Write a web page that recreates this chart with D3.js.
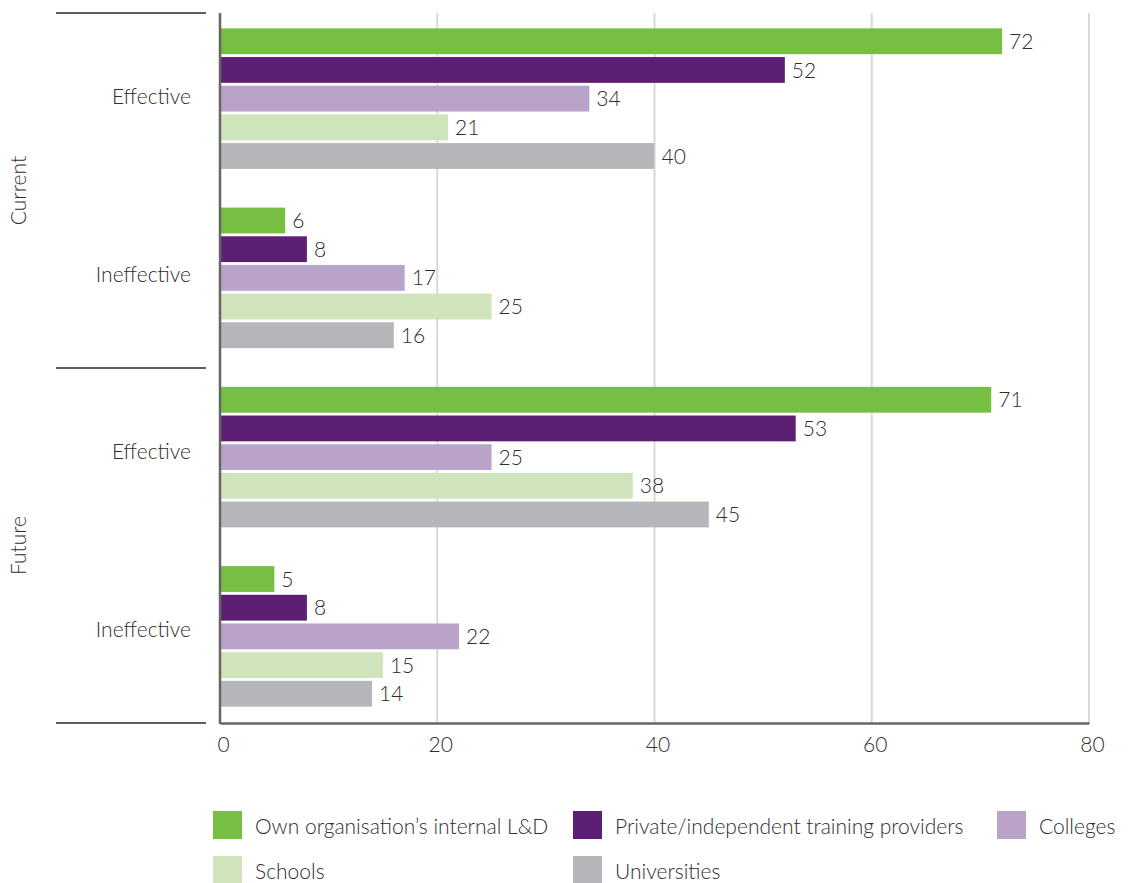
<!DOCTYPE html>
<html>
<head>
<meta charset="utf-8">
<script src="https://cdn.jsdelivr.net/npm/d3@7/dist/d3.min.js"></script>
<style>
  html, body { margin: 0; padding: 0; background: #fff; }
  svg { display: block; }
  text { font-family: Lato, "Open Sans", sans-serif; font-weight: 300; fill: #2e2e2e; }
</style>
</head>
<body>
<svg id="chart" width="1130" height="883"></svg>
<script>
// Rows: each time frame split into Effective / Ineffective
const periods = ["Current", "Future"];
const ratings = ["Effective", "Ineffective"];
const rows = ["Current|Effective", "Current|Ineffective", "Future|Effective", "Future|Ineffective"];

const seriesNames = [
  "Own organisation’s internal L&D",
  "Private/independent training providers",
  "Colleges",
  "Schools",
  "Universities"
];
const seriesColors = ["#76bf43", "#5c1f73", "#b9a3c9", "#cfe4bb", "#b5b6b9"];

// Percentages per row (Current Eff., Current Ineff., Future Eff., Future Ineff.)
const ownLD        = [72, 6, 71, 5];
const privateProv  = [52, 8, 53, 8];
const colleges     = [34, 17, 25, 22];
const schools      = [21, 25, 38, 15];
const universities = [40, 16, 45, 14];
const seriesValues = [ownLD, privateProv, colleges, schools, universities];

const xTicks = [0, 20, 40, 60, 80];

const svg = d3.select("#chart");
const plotTop = 13, plotBottom = 723, plotLeft = 220, plotRight = 1089;
const fontSize = 21;

const x = d3.scaleLinear().domain([0, 80]).range([plotLeft, plotRight]);

// category bands for the row labels
const yLabel = d3.scaleBand().domain(rows).range([plotTop, plotBottom]);
// bands holding each cluster of five bars
const y0 = d3.scaleBand().domain(rows).range([9, 726]).paddingInner(0.2).paddingOuter(0.1);
const y1 = d3.scaleBand().domain(d3.range(seriesNames.length))
  .range([0, y0.bandwidth()]).paddingInner(0.1).paddingOuter(0.05);

// vertical gridlines
svg.append("g").selectAll("line")
  .data(xTicks.filter(t => t > 0))
  .join("line")
  .attr("x1", d => x(d)).attr("x2", d => x(d))
  .attr("y1", plotTop).attr("y2", plotBottom)
  .attr("stroke", "#d9d9d9").attr("stroke-width", 2);

// bars
const barData = [];
rows.forEach((r, ri) => {
  seriesValues.forEach((vals, si) => {
    barData.push({ row: r, s: si, v: vals[ri] });
  });
});

svg.append("g").selectAll("rect")
  .data(barData)
  .join("rect")
  .attr("x", x(0))
  .attr("y", d => y0(d.row) + y1(d.s))
  .attr("width", d => x(d.v) - x(0))
  .attr("height", y1.bandwidth())
  .attr("fill", d => seriesColors[d.s]);

// value labels
svg.append("g").selectAll("text")
  .data(barData)
  .join("text")
  .attr("x", d => x(d.v) + 7)
  .attr("y", d => y0(d.row) + y1(d.s) + y1.bandwidth() / 2)
  .attr("dy", "0.36em")
  .attr("font-size", fontSize)
  .text(d => d.v);

// axes lines
const xAxis = d3.axisBottom(x).tickValues(xTicks).tickSize(0).tickPadding(14);
const gx = svg.append("g").attr("transform", `translate(0,${plotBottom})`).call(xAxis);
gx.select(".domain").attr("stroke", "#666").attr("stroke-width", 2.5);
gx.selectAll(".tick text").attr("font-size", fontSize).attr("font-family", null).attr("fill", null).attr("dx", 3);
gx.attr("font-family", null).attr("font-size", null);

svg.append("line")
  .attr("x1", plotLeft).attr("x2", plotLeft)
  .attr("y1", plotTop).attr("y2", plotBottom + 1)
  .attr("stroke", "#666").attr("stroke-width", 2.5);

// row labels
svg.append("g").selectAll("text")
  .data(rows)
  .join("text")
  .attr("x", 191)
  .attr("y", d => yLabel(d) + yLabel.bandwidth() / 2 - 5)
  .attr("dy", "0.35em")
  .attr("text-anchor", "end")
  .attr("font-size", fontSize)
  .text(d => d.split("|")[1]);

// period separators and labels
const periodScale = d3.scaleBand().domain(periods).range([plotTop, plotBottom]);
svg.append("g").selectAll("line")
  .data([plotTop, periodScale("Future"), plotBottom])
  .join("line")
  .attr("x1", 56).attr("x2", 206)
  .attr("y1", d => d).attr("y2", d => d)
  .attr("stroke", "#606060").attr("stroke-width", 2);

svg.append("g").selectAll("text")
  .data(periods)
  .join("text")
  .attr("transform", d => `translate(26,${periodScale(d) + periodScale.bandwidth() / 2}) rotate(-90)`)
  .attr("text-anchor", "middle")
  .attr("font-size", fontSize)
  .text(d => d);

// legend
const legendPos = [
  { x: 213, y: 811 }, { x: 573, y: 811 }, { x: 997, y: 811 },
  { x: 213, y: 856 }, { x: 573, y: 856 }
];
const lg = svg.append("g").selectAll("g")
  .data(seriesNames)
  .join("g")
  .attr("transform", (d, i) => `translate(${legendPos[i].x},${legendPos[i].y})`);
lg.append("rect").attr("width", 29).attr("height", 28).attr("fill", (d, i) => seriesColors[i]);
lg.append("text").attr("x", 42).attr("y", 15).attr("dy", "0.36em").attr("font-size", fontSize).text(d => d);
</script>
</body>
</html>
